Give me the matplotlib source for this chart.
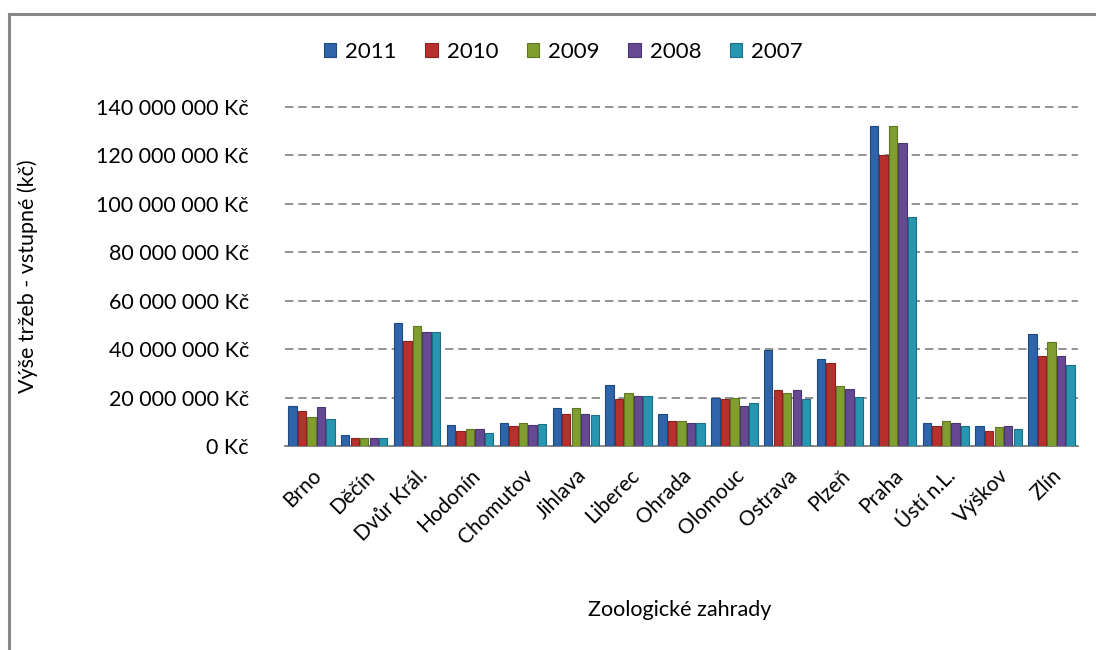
import matplotlib
matplotlib.use("Agg")
import matplotlib.pyplot as plt
import numpy as np
from matplotlib.ticker import MultipleLocator, FuncFormatter
from matplotlib.lines import Line2D

plt.rcParams['font.family'] = ['Lato', 'DejaVu Sans']

zoos = ['Brno', 'Děčín', 'Dvůr Král.', 'Hodonín', 'Chomutov', 'Jihlava', 'Liberec',
        'Ohrada', 'Olomouc', 'Ostrava', 'Plzeň', 'Praha', 'Ústí n.L.', 'Výškov', 'Zlín']
years = ['2011', '2010', '2009', '2008', '2007']

# values in millions Kč
v2011 = [16.4, 4.4, 50.6, 8.5, 9.6, 15.5, 25.0, 13.1, 19.7, 39.6, 36.1, 132.3, 9.7, 8.4, 46.4]
v2010 = [14.3, 3.4, 43.2, 6.3, 8.1, 13.1, 19.3, 10.2, 19.3, 23.0, 34.4, 120.3, 8.4, 6.4, 37.3]
v2009 = [11.8, 3.5, 49.4, 6.9, 9.6, 15.5, 22.1, 10.2, 19.7, 22.1, 24.9, 132.3, 10.5, 8.0, 43.1]
v2008 = [16.0, 3.4, 46.9, 6.9, 8.5, 13.1, 20.5, 9.6, 16.4, 23.0, 23.7, 125.3, 9.7, 8.4, 37.3]
v2007 = [11.0, 3.3, 46.9, 5.2, 8.9, 12.7, 20.5, 9.6, 17.6, 19.3, 20.4, 94.7, 8.4, 7.2, 33.6]

series = [v2011, v2010, v2009, v2008, v2007]
colors = ['#2f64aa', '#b7302e', '#7f9e2f', '#654a93', '#2896b0']
edges = ['#1f4a80', '#8a2220', '#5e7722', '#4a356e', '#1c7085']

fig = plt.figure(figsize=(10.96, 6.5), dpi=100)
ax = fig.add_axes([0.260, 0.3138, 0.7236, 0.5216])

x = np.arange(len(zoos))
w = 0.18
for i, vals in enumerate(series):
    ax.bar(x + (i - 2) * w, np.array(vals) * 1e6, width=w * 0.88,
           color=colors[i], edgecolor=edges[i], linewidth=0.8, label=years[i], zorder=3)

ax.set_xlim(-0.5, len(zoos) - 0.5)
ax.set_ylim(0, 140e6)
ax.yaxis.set_major_locator(MultipleLocator(20e6))
ax.yaxis.set_major_formatter(FuncFormatter(
    lambda v, p: '{:,.0f}'.format(v).replace(',', ' ') + ' Kč'))
ax.grid(axis='y', color='#808080', linestyle=(0, (5, 3)), linewidth=1.2, zorder=0)
for gl in ax.get_ygridlines():
    gl.set_clip_on(False)

for s in ['top', 'right', 'left']:
    ax.spines[s].set_visible(False)
ax.spines['bottom'].set_color('#808080')
ax.spines['bottom'].set_linewidth(1.3)

ax.set_xticks(x)
ax.set_xticklabels(zoos, rotation=45, ha='right', rotation_mode='anchor', fontsize=15)
ax.tick_params(axis='x', length=0, pad=14)
ax.tick_params(axis='y', length=0, pad=26, labelsize=15.5)

ax.set_ylabel('Výše tržeb - vstupné (kč)', fontsize=15.5)
ax.yaxis.set_label_coords(-0.311, 0.5)
fig.text(0.62, 0.062, 'Zoologické zahrady', fontsize=15.5, ha='center', va='center')

fig.legend(*ax.get_legend_handles_labels(), loc='center', bbox_to_anchor=(0.514, 0.92),
           ncol=5, frameon=False, fontsize=16, handlelength=0.55, handleheight=0.55,
           handletextpad=0.4, columnspacing=1.3)

fig.add_artist(Line2D([0.0078, 1.0], [0.979, 0.979], color='#888888', linewidth=2.2))
fig.add_artist(Line2D([0.0078, 0.0078], [0.0, 0.979], color='#888888', linewidth=2.2))

fig.savefig('out.png', dpi=100)
